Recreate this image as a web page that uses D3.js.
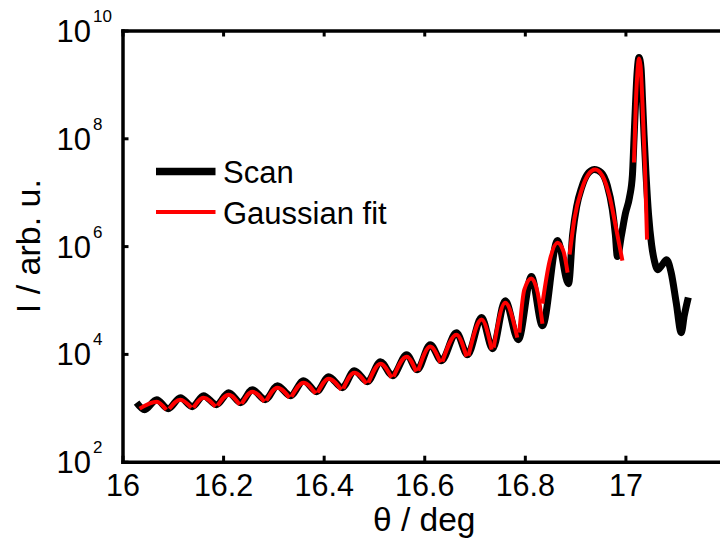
<!DOCTYPE html>
<html>
<head>
<meta charset="utf-8">
<script src="https://cdn.jsdelivr.net/npm/d3@7"></script>
<style>
  html, body { margin: 0; padding: 0; background: #fff; }
  svg { display: block; font-family: "Liberation Sans", Arial, sans-serif; }
</style>
</head>
<body>
<svg id="chart" width="720" height="544"></svg>
<script>
// Measured X-ray scan around the film peak (theta in degrees, intensity in arb. units)
const scanTheta = [
  16.028, 16.044, 16.068, 16.091, 16.115, 16.139, 16.161, 16.187, 16.211, 16.235,
  16.258, 16.284, 16.308, 16.334, 16.360, 16.386, 16.410, 16.437, 16.461, 16.487,
  16.513, 16.537, 16.565, 16.586, 16.612, 16.634, 16.664, 16.686, 16.714, 16.736,
  16.761, 16.787, 16.813, 16.835, 16.865, 16.887, 16.895, 16.903, 16.913, 16.924,
  16.938, 16.952, 16.964, 16.974, 16.980, 16.984, 16.992, 17.000, 17.008, 17.014,
  17.017, 17.020, 17.023, 17.027, 17.031, 17.034, 17.037, 17.041, 17.046, 17.052,
  17.058, 17.064, 17.072, 17.082, 17.091, 17.101, 17.111, 17.117, 17.125
];
const scanIntensity = [
  1245, 922, 1416, 964, 1542, 1050, 1679, 1143, 1910, 1245,
  2168, 1416, 2576, 1679, 3184, 1991, 3784, 2366, 4887, 3055,
  7178, 3945, 9683, 5104, 14860, 7499, 24770, 9683, 47100, 12500,
  97300, 18400, 271600, 33400, 1.265e6, 2.01e5, 1.63e6, 5.41e6, 1.22e7, 2.12e7,
  2.63e7, 2.31e7, 1.33e7, 4.76e6, 1.63e6, 6.38e5, 1.57e6, 4.01e6, 7.94e6, 2.12e7,
  9.48e7, 4.23e8, 1.52e9, 3.15e9, 2.06e9, 5.24e8, 1.17e8, 2.12e7, 3.85e6, 1.07e6,
  5.15e5, 3.66e5, 4.35e5, 5.61e5, 3.22e5, 8.93e4, 2.48e4, 5.13e4, 1.11e5
];

// Gaussian fits, one segment per fringe
const fitTheta = [
  [16.034, 16.068, 16.087],
  [16.093, 16.115, 16.137],
  [16.141, 16.161, 16.185],
  [16.189, 16.211, 16.233],
  [16.237, 16.258, 16.282],
  [16.286, 16.308, 16.332],
  [16.336, 16.360, 16.384],
  [16.388, 16.410, 16.435],
  [16.439, 16.461, 16.485],
  [16.489, 16.513, 16.535],
  [16.539, 16.565, 16.584],
  [16.588, 16.612, 16.632],
  [16.636, 16.664, 16.684],
  [16.688, 16.714, 16.734],
  [16.738, 16.761, 16.785],
  [16.789, 16.799, 16.813, 16.825, 16.835],
  [16.835, 16.849, 16.865, 16.877, 16.885],
  [16.889, 16.899, 16.913, 16.926, 16.940, 16.954, 16.968, 16.982, 16.994],
  [17.017, 17.021, 17.024, 17.027, 17.030, 17.034, 17.039, 17.043]
];
const fitIntensity = [
  [964, 1300, 922],
  [964, 1416, 1005],
  [1005, 1542, 1050],
  [1094, 1754, 1143],
  [1194, 1991, 1300],
  [1355, 2366, 1542],
  [1607, 2924, 1828],
  [1910, 3475, 2168],
  [2265, 4487, 2805],
  [2924, 6592, 3623],
  [3784, 8892, 4688],
  [4887, 13650, 6887],
  [7178, 22750, 8892],
  [9290, 43250, 11990],
  [13060, 89330, 20040],
  [24770, 156000, 249500, 142900, 36400],
  [85700, 515000, 1.16e6, 7.91e5, 3.22e5],
  [6.95e5, 3.38e6, 1.12e7, 2.12e7, 2.63e7, 2.04e7, 8.65e6, 2.02e6, 5.38e5],
  [3.55e7, 5.24e8, 1.73e9, 3.02e9, 2.24e9, 4.23e8, 2.63e7, 1.32e6]
];

const xTicks = [16, 16.2, 16.4, 16.6, 16.8, 17];
const xTickLabels = ["16", "16.2", "16.4", "16.6", "16.8", "17"];
const yTickExponents = [2, 4, 6, 8, 10];
const legendLabels = ["Scan", "Gaussian fit"];
const xTitle = "θ / deg";
const yTitle = "I / arb. u.";

const svg = d3.select("#chart");
const plotLeft = 122.5, plotTop = 30.5, plotBottom = 461.7, plotRight = 726;

const x = d3.scaleLinear().domain([16, 17.2]).range([plotLeft, plotRight]);
const y = d3.scaleLog().domain([1e2, 1e10]).range([plotBottom, plotTop]);

const line = d3.line()
  .x(d => x(d[0]))
  .y(d => y(d[1]))
  .curve(d3.curveMonotoneX);

// scan trace
svg.append("path")
  .datum(scanTheta.map((t, i) => [t, scanIntensity[i]]))
  .attr("d", line)
  .attr("fill", "none")
  .attr("stroke", "#000")
  .attr("stroke-width", 7)
  .attr("stroke-linejoin", "round");

// fit segments
svg.append("g").selectAll("path")
  .data(fitTheta.map((ts, k) => ts.map((t, i) => [t, fitIntensity[k][i]])))
  .join("path")
  .attr("d", line)
  .attr("fill", "none")
  .attr("stroke", "#ff0000")
  .attr("stroke-width", 4)
  .attr("stroke-linejoin", "round");

// axes
function styleAxis(g) {
  g.select(".domain").attr("stroke", "#000").attr("stroke-width", 3.5).attr("stroke-linecap", "square");
  g.selectAll(".tick line").attr("stroke", "#000").attr("stroke-width", 3);
}

const xAxis = svg.append("g")
  .attr("transform", `translate(0,${plotBottom})`)
  .call(d3.axisBottom(x).tickValues(xTicks).tickSizeInner(-6).tickSizeOuter(0)
    .tickFormat((d, i) => xTickLabels[i]));
styleAxis(xAxis);
xAxis.selectAll(".tick text")
  .attr("y", 34.5).attr("dy", null)
  .attr("font-size", 30.5).attr("font-family", "Liberation Sans, Arial, sans-serif")
  .attr("fill", "#000");

const xAxisTop = svg.append("g")
  .attr("transform", `translate(0,${plotTop})`)
  .call(d3.axisTop(x).tickValues(xTicks).tickSizeInner(-6).tickSizeOuter(0).tickFormat(""));
styleAxis(xAxisTop);

const yAxis = svg.append("g")
  .attr("transform", `translate(${plotLeft},0)`)
  .call(d3.axisLeft(y).tickValues(yTickExponents.map(e => Math.pow(10, e)))
    .tickSizeInner(-6).tickSizeOuter(0).tickFormat(""));
styleAxis(yAxis);
yAxis.selectAll(".tick").each(function (d, i) {
  const g = d3.select(this);
  g.select("text").remove();
  g.append("text")
    .attr("x", 91 - plotLeft).attr("y", 11)
    .attr("text-anchor", "end")
    .attr("font-size", 31)
    .attr("font-family", "Liberation Sans, Arial, sans-serif")
    .attr("fill", "#000")
    .text("10");
  g.append("text")
    .attr("x", 93 - plotLeft).attr("y", -9)
    .attr("text-anchor", "start")
    .attr("font-size", 17)
    .attr("font-family", "Liberation Sans, Arial, sans-serif")
    .attr("fill", "#000")
    .text(yTickExponents[i]);
});

// axis titles
svg.append("text")
  .attr("x", (plotLeft + plotRight) / 2).attr("y", 531)
  .attr("text-anchor", "middle")
  .attr("font-size", 33.5)
  .text(xTitle);

svg.append("text")
  .attr("transform", `translate(40,${(plotTop + plotBottom) / 2}) rotate(-90)`)
  .attr("text-anchor", "middle")
  .attr("font-size", 34)
  .text(yTitle);

// legend
const legend = svg.append("g");
const legendColors = ["#000", "#ff0000"];
const legendWidths = [7.5, 4];
const legendY = [171.5, 212];
legendLabels.forEach((lab, i) => {
  legend.append("line")
    .attr("x1", 156).attr("x2", 215.5)
    .attr("y1", legendY[i]).attr("y2", legendY[i])
    .attr("stroke", legendColors[i]).attr("stroke-width", legendWidths[i]);
  legend.append("text")
    .attr("x", 223).attr("y", legendY[i] + 11.5)
    .attr("font-size", 31)
    .text(lab);
});
</script>
</body>
</html>
